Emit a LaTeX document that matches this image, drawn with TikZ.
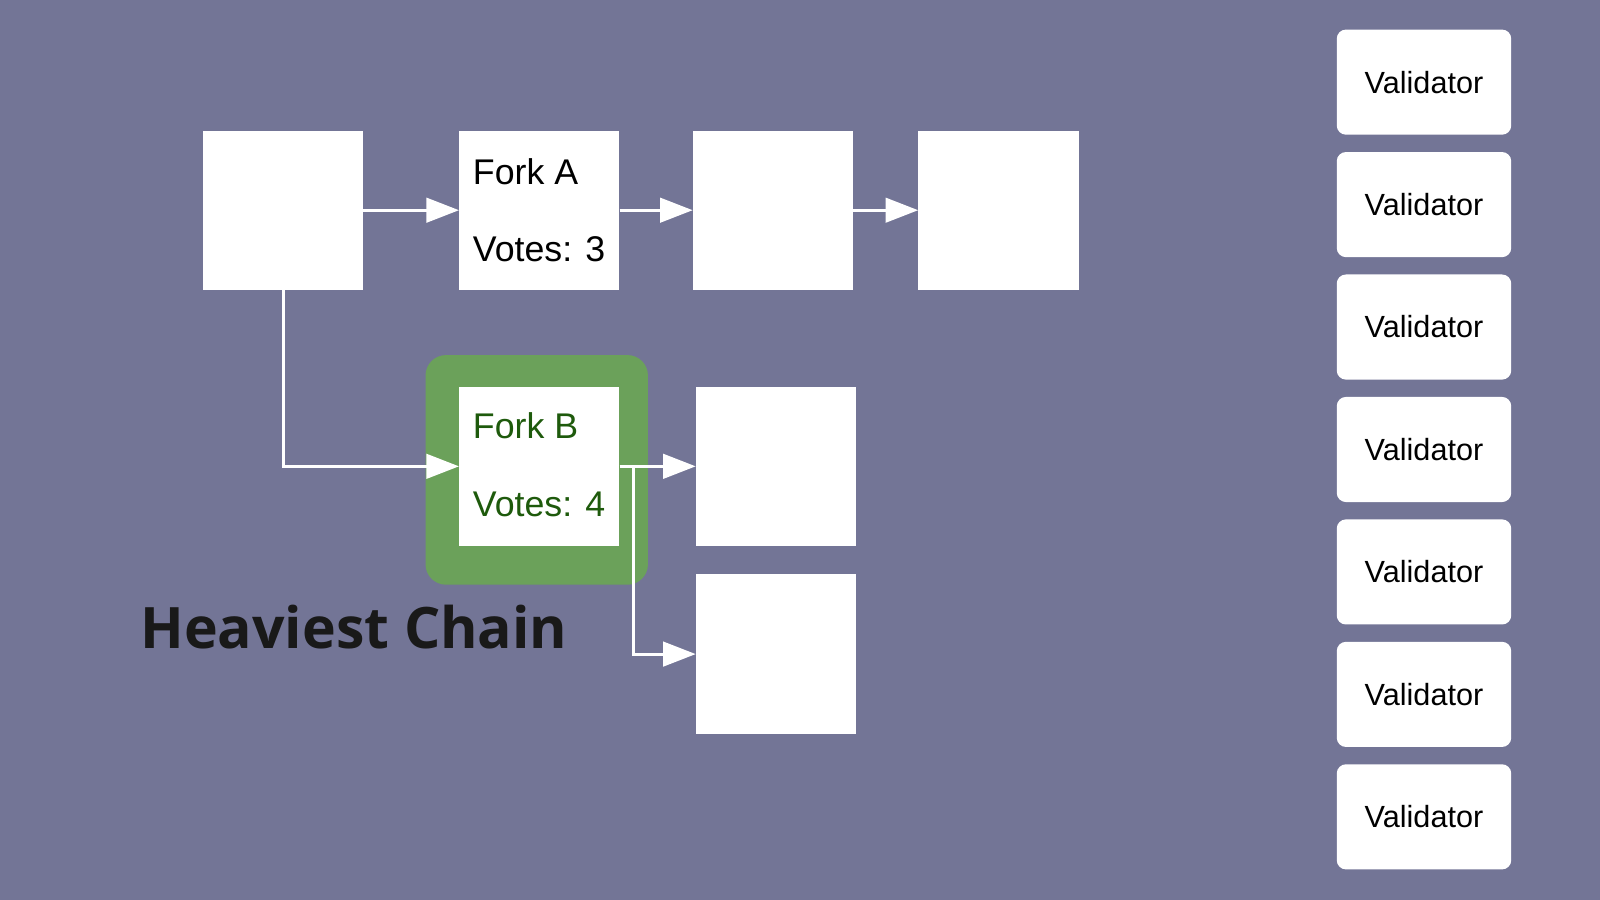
\documentclass[tikz,border=0pt]{standalone}
\usepackage{fontspec}
\setmainfont{Liberation Sans}
\newfontfamily\headfont{Open Sans}
\usetikzlibrary{arrows.meta}
\definecolor{bg}{HTML}{737596}
\definecolor{hl}{HTML}{6BA15A}
\definecolor{dg}{HTML}{1E5A0C}
\begin{document}
\begin{tikzpicture}[x=1pt,y=-1pt,
 blk/.style={fill=white,draw=none,minimum width=157pt,minimum height=156pt,inner sep=0pt},
 val/.style={fill=white,rounded corners=9pt,minimum width=171pt,minimum height=103pt,inner sep=0pt,font=\fontsize{30}{36}\selectfont},
 arr/.style={white,line width=3pt,-{Triangle[length=32pt,width=24pt]}},
 lab/.style={anchor=base west,font=\fontsize{35}{40}\selectfont}]
\fill[bg] (0,0) rectangle (1568,882);
\useasboundingbox (0,0) rectangle (1568,882);
\node[blk] (b1) at (277.5,206) {};
\node[blk] (fa) at (528.5,206) {};
\node[blk] (b3) at (757.5,206) {};
\node[blk] (b4) at (978.5,206) {};
\node[fill=hl,rounded corners=20pt,minimum width=218pt,minimum height=225pt] (hlb) at (526,460.5) {};
\node[blk] (fb) at (528.5,457) {};
\node[blk] (c1) at (760.5,457) {};
\node[blk] (c2) at (760.5,641) {};
\node[lab] (ta) at (460,181) {Fork A};
\node[lab] (va) at (460,256) {Votes: 3};
\node[lab,text=dg] (tb) at (460,430) {Fork B};
\node[lab,text=dg] (vb) at (460,506) {Votes: 4};
\node[anchor=base west,font=\headfont\bfseries\fontsize{56}{60}\selectfont,text=black!90] (hc) at (134,636) {Heaviest Chain};
\draw[arr] (b1.east) -- (fa.west);
\draw[arr] (fa.east) -- (b3.west);
\draw[arr] (b3.east) -- (b4.west);
\draw[arr] (b1.south) |- (fb.west);
\draw[arr] (fb.east) -- (c1.west);
\coordinate (br) at (621,457);
\draw[arr] (br) |- (c2.west);
\foreach \i in {0,...,6}{
 \node[val] (v\i) at (1395.5,80.5+120*\i) {Validator};
}
\end{tikzpicture}
\end{document}
